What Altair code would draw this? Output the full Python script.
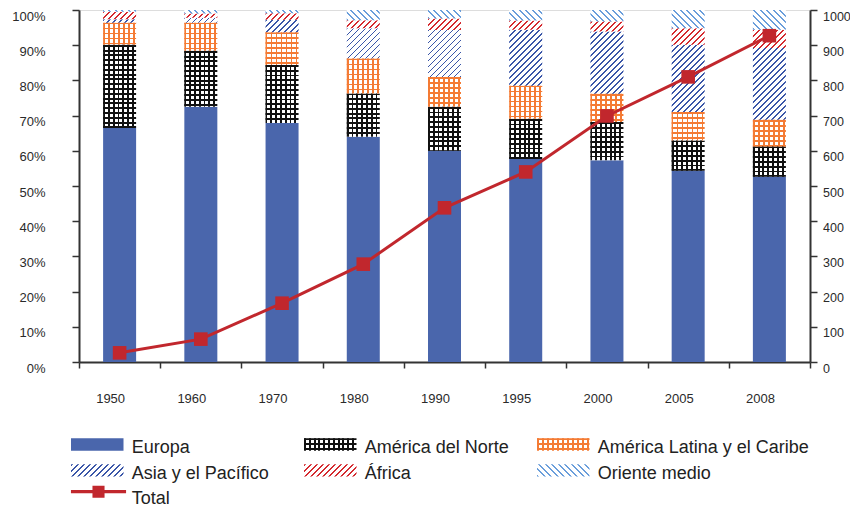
import altair as alt

# ---------------- data ----------------
years = ["1950", "1960", "1970", "1980", "1990", "1995", "2000", "2005", "2008"]
europa = [66.5, 72.5, 67.9, 64.0, 60.0, 57.7, 57.3, 54.3, 52.6]
america_norte = [23.6, 15.9, 16.5, 12.3, 12.5, 11.4, 10.9, 8.6, 8.6]
america_latina = [6.3, 8.0, 9.3, 9.9, 8.5, 9.4, 8.0, 8.1, 7.6]
asia_pacifico = [1.0, 1.4, 3.5, 8.6, 13.3, 15.9, 17.7, 19.1, 20.4]
africa = [2.1, 1.2, 1.9, 2.3, 3.3, 2.6, 2.8, 4.7, 5.2]
oriente_medio = [0.5, 1.0, 0.9, 2.9, 2.4, 3.0, 3.3, 5.2, 5.6]
total = [26, 65, 167, 278, 438, 540, 699, 810, 927]

series_names = ["Europa", "América del Norte", "América Latina y el Caribe",
                "Asia y el Pacífico", "África", "Oriente medio"]
series_values = [europa, america_norte, america_latina, asia_pacifico, africa, oriente_medio]
total_name = "Total"

# ---------------- styling ----------------
PLOT_W, PLOT_H = 731, 352
PX_PER_PCT = PLOT_H / 100.0
BAR_W = 33
FONT = "Liberation Sans"
AX = "#333333"
LBL = "#2a2a2a"
RED = "#c1272d"
TRANSP = "rgba(255,255,255,0)"

styles = {
    "Europa": {"kind": "solid", "fg": "#4a66ac"},
    "América del Norte": {"kind": "grid", "fg": "#111111", "period": 4.8, "line": 1.9},
    "América Latina y el Caribe": {"kind": "grid", "fg": "#f47b34", "period": 5.0, "line": 1.8},
    "Asia y el Pacífico": {"kind": "fwd", "fg": "#3a56a8", "period": 6.0, "line": 1.9},
    "África": {"kind": "fwd", "fg": "#d42a2f", "period": 6.0, "line": 2.0},
    "Oriente medio": {"kind": "back", "fg": "#6a9edb", "period": 6.5, "line": 2.0},
}


def band_stops(L, period, line, fg, bg):
    stops = []
    pos = 0.0
    L = max(L, 0.01)
    while pos < L - 1e-9:
        for a, b, col in ((pos, pos + line, fg), (pos + line, pos + period, bg)):
            a2, b2 = max(a, 0.0), min(b, L)
            if b2 > a2:
                stops.append({"offset": round(a2 / L, 5), "color": col})
                stops.append({"offset": round(b2 / L, 5), "color": col})
        pos += period
    return stops


def main_fill(name, w, h):
    st = styles[name]
    if st["kind"] == "solid":
        return st["fg"]
    if st["kind"] == "grid":
        return {"gradient": "linear", "x1": 0, "y1": 0, "x2": 0, "y2": 1,
                "stops": band_stops(h, st["period"], st["line"], st["fg"], "#ffffff")}
    c = (w + h) * w / (w * w + h * h)
    if st["kind"] == "fwd":
        x1, y1, x2, y2 = 0, 0, c, c * h / w
    else:
        x1, y1, x2, y2 = 0, 1, c, 1 - c * h / w
    return {"gradient": "linear", "x1": x1, "y1": y1, "x2": x2, "y2": y2,
            "stops": band_stops(w + h, st["period"], st["line"], st["fg"], "#ffffff")}


def overlay_fill(name, w):
    st = styles[name]
    if st["kind"] != "grid":
        return None
    return {"gradient": "linear", "x1": 0, "y1": 0, "x2": 1, "y2": 0,
            "stops": band_stops(w, st["period"], st["line"], st["fg"], TRANSP)}


# ---------------- bar records (stack computed from the arrays) ----------------
bar_records = []
for i, yr in enumerate(years):
    base = 0.0
    for name, vals in zip(series_names, series_values):
        v = vals[i]
        h = v * PX_PER_PCT
        bar_records.append({
            "year": yr, "serie": name, "y0": base, "y1": base + v,
            "grad": main_fill(name, BAR_W, h),
            "ov": overlay_fill(name, BAR_W),
        })
        base += v

total_records = [{"year": y, "total": t} for y, t in zip(years, total)]

# ---------------- legend records ----------------
LEG_W, LEG_H = 52.5, 12.3
legend_layout = [("Europa", 0, 0), ("América del Norte", 1, 0), ("América Latina y el Caribe", 2, 0),
                 ("Asia y el Pacífico", 0, 1), ("África", 1, 1), ("Oriente medio", 2, 1)]
legend_records = []
for name, c, r in legend_layout:
    legend_records.append({"label": name, "lx": c, "ly": r,
                           "grad": main_fill(name, LEG_W, LEG_H),
                           "ov": overlay_fill(name, LEG_W)})
total_legend = [{"label": total_name, "lx": 0, "ly": 2}]

# ---------------- scales / encodings ----------------
x_enc = alt.X("year:N", sort=years,
              scale=alt.Scale(paddingInner=0, paddingOuter=0),
              axis=alt.Axis(title=None, labelAngle=0, tickBand="extent", tickSize=6,
                            tickColor=AX, tickWidth=1.5, domainColor=AX, domainWidth=2,
                            labelPadding=24, labelOffset=-9.5, labelFontSize=13,
                            labelColor=LBL, labelFont=FONT))
left_axis = alt.Axis(title=None, values=list(range(0, 101, 10)),
                     labelExpr="datum.value + '%'", tickSize=7, tickColor=AX,
                     tickWidth=1.5, domainColor=AX, domainWidth=2,
                     labelPadding=27, labelOffset=6, labelFontSize=13,
                     labelColor=LBL, labelFont=FONT, grid=False)
y_left = alt.Y("y0:Q", scale=alt.Scale(domain=[0, 100], nice=False), axis=left_axis)

bars = alt.Chart(alt.Data(values=bar_records)).mark_bar(size=BAR_W).encode(
    x=x_enc, y=y_left, y2="y1:Q", fill=alt.Fill("grad:N", scale=None))
bars_ov = alt.Chart(alt.Data(values=bar_records)).transform_filter(
    "datum.ov != null").mark_bar(size=BAR_W).encode(
    x=x_enc, y=y_left, y2="y1:Q", fill=alt.Fill("ov:N", scale=None))

y_right = alt.Y("total:Q", scale=alt.Scale(domain=[0, 1000], nice=False),
                axis=alt.Axis(title=None, orient="right", values=list(range(0, 1001, 100)),
                              format="d", tickSize=7, tickColor=AX, tickWidth=1.5,
                              domainColor=AX, domainWidth=2, labelPadding=5.5, labelOffset=6,
                              labelFontSize=12.5, labelColor=LBL, labelFont=FONT, grid=False))
line = alt.Chart(alt.Data(values=total_records)).mark_line(
    color=RED, strokeWidth=3).encode(x=x_enc, y=y_right)
pts = alt.Chart(alt.Data(values=total_records)).mark_square(
    color=RED, size=185, opacity=1).encode(x=x_enc, y=y_right)

main = alt.layer(alt.layer(bars, bars_ov), alt.layer(line, pts)).resolve_scale(y="independent")

# legend placed through its own linear scales
lx = alt.X("lx:Q", scale=alt.Scale(domain=[-0.2262, 2.9111], nice=False, zero=False), axis=None)
ly = alt.Y("ly:Q", scale=alt.Scale(domain=[-16.969, -3.326], nice=False, zero=False, reverse=True),
           axis=None)
RECT_PATH = "M-1,-0.234H1V0.234H-1Z"
TOTAL_PATH = ("M-1.05,-0.062H-0.23V-0.23H0.23V-0.062H1.05V0.062H0.23V0.23H-0.23V0.062H-1.05Z")

leg_sym = alt.Chart(alt.Data(values=legend_records)).mark_point(
    shape=RECT_PATH, size=LEG_W ** 2, filled=True, opacity=1, strokeWidth=0,
    xOffset=-34.45, yOffset=-3.3).encode(x=lx, y=ly, fill=alt.Fill("grad:N", scale=None))
leg_ov = alt.Chart(alt.Data(values=legend_records)).transform_filter(
    "datum.ov != null").mark_point(
    shape=RECT_PATH, size=LEG_W ** 2, filled=True, opacity=1, strokeWidth=0,
    xOffset=-34.45, yOffset=-3.3).encode(x=lx, y=ly, fill=alt.Fill("ov:N", scale=None))
leg_total = alt.Chart(alt.Data(values=total_legend)).mark_point(
    shape=TOTAL_PATH, size=LEG_W ** 2, filled=True, opacity=1, strokeWidth=0,
    color=RED, xOffset=-33.2, yOffset=-7.7).encode(x=lx, y=ly)
leg_text = alt.Chart(alt.Data(values=legend_records + total_legend)).mark_text(
    align="left", baseline="middle", fontSize=18, font=FONT, color="#222222").encode(
    x=lx, y=ly, text="label:N")

legend = alt.layer(leg_sym, leg_ov, leg_total, leg_text)

chart = alt.layer(main, legend).resolve_scale(x="independent", y="independent").properties(
    width=PLOT_W, height=PLOT_H,
    autosize=alt.AutoSizeParams(type="none"),
    padding={"left": 71, "top": 2, "right": 40, "bottom": 146},
).configure_view(stroke="#8c8c8c", strokeWidth=2).configure(background="white")

chart.save("out.html", embed_options={"renderer": "svg", "actions": False})
